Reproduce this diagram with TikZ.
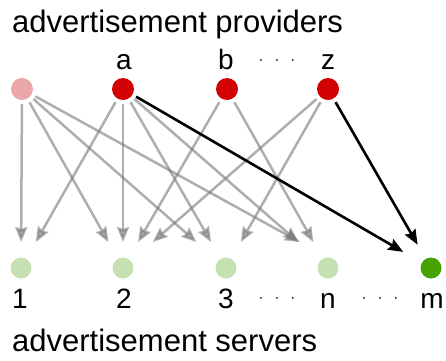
\documentclass[tikz,border=0pt]{standalone}
\usepackage{fontspec}
\setmainfont{Liberation Sans}
\usetikzlibrary{calc,arrows.meta}
\definecolor{provpink}{RGB}{236,168,168}
\definecolor{provred}{RGB}{210,0,0}
\definecolor{servlight}{RGB}{197,225,178}
\definecolor{servdark}{RGB}{72,162,0}
\definecolor{edgegray}{RGB}{120,120,120}
\tikzset{
  dot/.style={circle,inner sep=0pt,minimum size=22pt,draw=none},
  sdot/.style={circle,inner sep=0pt,minimum size=21pt,draw=none},
  title/.style={inner sep=0pt,anchor=base west,font=\fontsize{31}{31}\selectfont},
  lbl/.style={inner sep=0pt,anchor=base,font=\fontsize{28}{28}\selectfont},
  ellip/.style={inner sep=0pt,font=\fontsize{15}{15}\selectfont},
  garr/.style={draw=edgegray,opacity=0.6,line width=2.5pt,shorten <=4pt,
    -{Stealth[length=15pt,width=12pt,inset=2pt]}},
  barr/.style={draw=black,line width=2.6pt,shorten <=4pt,
    -{Stealth[length=15pt,width=12pt,inset=2pt]}}
}
\begin{document}
\begin{tikzpicture}[x=1pt,y=-1pt]
\useasboundingbox (0,0) rectangle (446,360);
\node[title] (tt) at (12,32) {advertisement providers};
\node[title] (bt) at (12,351) {advertisement servers};
% providers
\node[dot,fill=provpink] (p) at (22,89) {};
\node[dot,fill=provred] (a) at (123,89) {};
\node[dot,fill=provred] (b) at (227,89) {};
\node[dot,fill=provred] (z) at (328,89) {};
\node[lbl] (la) at (124,69) {a};
\node[lbl] (lb) at (226,69) {b};
\node[lbl] (lz) at (328,69) {z};
\node[ellip] (d1) at (277,62) {·\hspace{11pt}·\hspace{11pt}·};
% servers
\node[sdot,fill=servlight] (s1) at (21,268) {};
\node[sdot,fill=servlight] (s2) at (123,268) {};
\node[sdot,fill=servlight] (s3) at (226,268) {};
\node[sdot,fill=servlight] (sn) at (328,268) {};
\node[sdot,fill=servdark] (sm) at (431,268) {};
\node[lbl] (l1) at (20,308) {1};
\node[lbl] (l2) at (124,308) {2};
\node[lbl] (l3) at (226,308) {3};
\node[lbl] (ln) at (328,308) {n};
\node[lbl] (lm) at (432,308) {m};
\node[ellip] (d2) at (277,300) {·\hspace{11pt}·\hspace{11pt}·};
\node[ellip] (d3) at (380,300) {·\hspace{11pt}·\hspace{11pt}·};
\coordinate (snR) at ($(sn)+(19,0)$);
% gray edges
\draw[garr] (p) -- ($(p)!0.855!(s1)$);
\draw[garr] (p) -- ($(p)!0.855!(s2)$);
\draw[garr] (p) -- ($(p)!0.855!(s3)$);
\draw[garr] (p) -- ($(p)!0.855!(snR)$);
\draw[garr] (a) -- ($(a)!0.855!(s1)$);
\draw[garr] (a) -- ($(a)!0.855!(s2)$);
\draw[garr] (a) -- ($(a)!0.855!(s3)$);
\draw[garr] (a) -- ($(a)!0.855!(sn)$);
\draw[garr] (b) -- ($(b)!0.855!(s2)$);
\draw[garr] (b) -- ($(b)!0.855!(sn)$);
\draw[garr] (z) -- ($(z)!0.855!(s2)$);
\draw[garr] (z) -- ($(z)!0.855!(s3)$);
% black edges
\draw[barr] (a) -- ($(a)!0.91!(sm)$);
\draw[barr] (z) -- ($(z)!0.87!(sm)$);
\end{tikzpicture}
\end{document}
